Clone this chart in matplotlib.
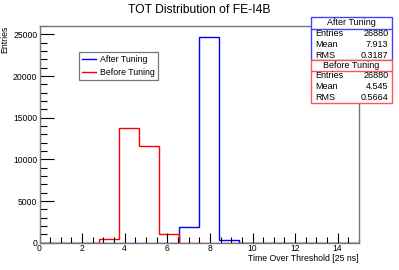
import numpy as np
import matplotlib
matplotlib.use("Agg")
from matplotlib import pyplot as plt
from matplotlib.patches import Rectangle
from matplotlib.ticker import MultipleLocator

plt.rcParams['font.family'] = ['Liberation Sans', 'DejaVu Sans']

# histogram binning: 16 bins from 0 to 15
nbins = 16
xlo, xhi = 0, 15
edges = np.linspace(xlo, xhi, nbins + 1)

after_counts = [0, 0, 0, 0, 0, 0, 0, 1850, 24700, 300, 0, 0, 0, 0, 0, 0]
before_counts = [0, 0, 0, 400, 13800, 11600, 1000, 0, 0, 0, 0, 0, 0, 0, 0, 0]

series_names = ["After Tuning", "Before Tuning"]
stat_labels = ["Entries", "Mean", "RMS"]
after_stats = ["26880", "7.913", "0.3187"]
before_stats = ["26880", "4.545", "0.5664"]

W, H = 399, 270
fig = plt.figure(figsize=(W / 100, H / 100), dpi=100)
ax = fig.add_axes([39.5 / W, 1 - 242.7 / H, (359 - 39.5) / W, (242.7 - 26) / H])

ax.stairs(after_counts, edges, color='#0000ff', lw=1.0, baseline=0)
ax.stairs(before_counts, edges, color='#ff0000', lw=1.0, baseline=0)

ax.set_xlim(xlo, xhi)
ax.set_ylim(0, 26000)
ax.xaxis.set_major_locator(MultipleLocator(2))
ax.xaxis.set_minor_locator(MultipleLocator(0.5))
ax.yaxis.set_major_locator(MultipleLocator(5000))
ax.yaxis.set_minor_locator(MultipleLocator(1000))

framecol = '#777777'
for s in ax.spines.values():
    s.set_color(framecol)
    s.set_linewidth(1.0)
ax.tick_params(which='both', direction='in', colors='black', labelsize=6.2, pad=1.5,
               top=False, right=False, width=0.8)
ax.tick_params(axis='x', which='major', length=7)
ax.tick_params(axis='x', which='minor', length=4)
ax.tick_params(axis='y', which='major', length=10)
ax.tick_params(axis='y', which='minor', length=5)
ax.tick_params(axis='x', pad=1)

ax.set_xlabel("Time Over Threshold [25 ns]", loc='right', fontsize=6.3, labelpad=1)
ax.set_ylabel("Entries", loc='top', fontsize=6.3, labelpad=3)

fig.text(0.5, 1 - 10 / H, "TOT Distribution of FE-I4B", ha='center', va='center', fontsize=8.7)

# legend
leg = ax.legend(handles=[plt.Line2D([], [], color='#0000ff', lw=1.0),
                         plt.Line2D([], [], color='#ff0000', lw=1.0)],
                labels=series_names, fontsize=6.3, loc='upper left',
                bbox_to_anchor=(78.5 / W, 1 - 78.3 / H, (158 - 78.5) / W, (78.3 - 52.3) / H),
                bbox_transform=fig.transFigure, mode='expand', fancybox=False,
                handlelength=1.7, handletextpad=0.4, borderpad=0.35, labelspacing=0.45,
                borderaxespad=0, framealpha=1)
leg.get_frame().set_edgecolor(framecol)
leg.get_frame().set_linewidth(0.9)


def stats_box(y0, y1, ysep, title, values, col):
    x0, x1 = 311, 391.5
    fig.patches.append(Rectangle((x0 / W, 1 - y1 / H), (x1 - x0) / W, (y1 - y0) / H,
                                 transform=fig.transFigure, facecolor='white',
                                 edgecolor=col, lw=1.0, zorder=5))
    fig.add_artist(plt.Line2D([x0 / W, x1 / W], [1 - ysep / H] * 2, color=col, lw=1.0,
                              transform=fig.transFigure, zorder=6))
    fig.text((x0 + x1) / 2 / W, 1 - (y0 + ysep) / 2 / H, title, ha='center', va='center',
             fontsize=6.5, zorder=7)
    for i, (lab, val) in enumerate(zip(stat_labels, values)):
        yc = ysep + (y1 - ysep) / 3 * (i + 0.5)
        fig.text(315 / W, 1 - yc / H, lab, ha='left', va='center', fontsize=6.5, zorder=7)
        fig.text(388.5 / W, 1 - yc / H, val, ha='right', va='center', fontsize=6.5, zorder=7)


stats_box(16.7, 60.3, 28.7, series_names[0], after_stats, '#4444ff')
stats_box(60.3, 103.3, 70.5, series_names[1], before_stats, '#ff5555')

fig.savefig("out.png", dpi=100)
